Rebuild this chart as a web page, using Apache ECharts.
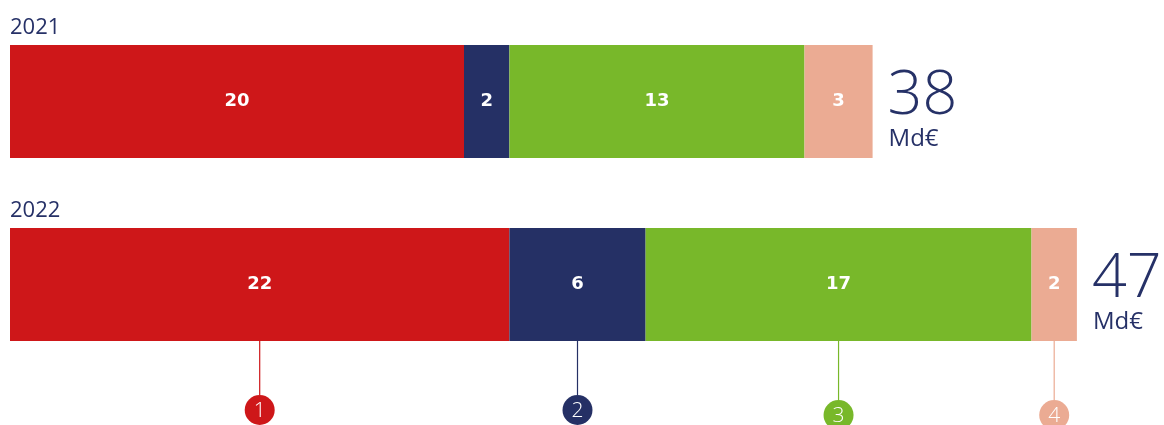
<!DOCTYPE html>
<html>
<head>
<meta charset="utf-8">
<script src="https://cdn.jsdelivr.net/npm/echarts@6/dist/echarts.min.js"></script>
<style>
  html, body { margin: 0; padding: 0; background: #ffffff; }
  #chart { width: 1164px; height: 425px; }
</style>
</head>
<body>
<div id="chart"></div>
<script>
// Years and the four component values (Md€) stacked in each bar
const categories = ['2021', '2022'];
const componentNames = ['1', '2', '3', '4'];
const component1 = [20, 22];
const component2 = [2, 6];
const component3 = [13, 17];
const component4 = [3, 2];
const totals = [38, 47];
const totalUnit = 'Md€';

const palette = ['#CE1719', '#253065', '#78B82A', '#EBAB93'];
const navy = '#263167';
const fontFamily = '"Open Sans", "Liberation Sans", sans-serif';
const boldFamily = '"DejaVu Sans", "Open Sans", sans-serif';

const components = [component1, component2, component3, component4];
const calloutYear = '2022';
const calloutIndex = categories.indexOf(calloutYear);
const BAR = 113;

// Midpoint of each segment of the callout year, used for the numbered markers
const calloutData = [];
let running = 0;
components.forEach(function (arr, i) {
  calloutData.push([running + arr[calloutIndex] / 2, calloutYear, i]);
  running += arr[calloutIndex];
});

const barSeries = components.map(function (arr, i) {
  return {
    name: componentNames[i],
    type: 'bar',
    stack: 'total',
    barWidth: BAR,
    data: arr,
    itemStyle: { color: palette[i] },
    emphasis: { disabled: true },
    label: {
      show: true,
      position: 'inside',
      color: '#ffffff',
      fontFamily: boldFamily,
      fontWeight: 'bold',
      fontSize: 18
    }
  };
});

// Total on the right of each bar, carried by an invisible series stacked on top
barSeries.push({
  name: 'total',
  type: 'bar',
  stack: 'total',
  barWidth: BAR,
  data: totals.map(function () { return 0; }),
  itemStyle: { color: 'transparent' },
  emphasis: { disabled: true },
  label: {
    show: true,
    position: 'right',
    distance: 15,
    padding: [20, 0, 0, 0],
    formatter: function (p) {
      return '{big|' + totals[p.dataIndex] + '}\n{unit|' + totalUnit + '}';
    },
    rich: {
      big: { fontFamily: fontFamily, fontWeight: 300, fontSize: 61, lineHeight: 56, color: navy },
      unit: { fontFamily: fontFamily, fontWeight: 400, fontSize: 24, lineHeight: 30, color: navy, padding: [0, 0, 0, 1] }
    }
  }
});

// Year captions above each bar
barSeries.push({
  type: 'custom',
  silent: true,
  data: categories.map(function (c) { return [0, c]; }),
  renderItem: function (params, api) {
    const pt = api.coord([api.value(0), api.value(1)]);
    return {
      type: 'text',
      x: pt[0],
      y: pt[1] - BAR / 2 - 17,
      style: {
        text: categories[params.dataIndex],
        fill: navy,
        font: '400 22px ' + fontFamily,
        textAlign: 'left',
        textVerticalAlign: 'middle'
      }
    };
  }
});

// Numbered markers hanging below the segments of the callout year
barSeries.push({
  type: 'custom',
  silent: true,
  data: calloutData,
  renderItem: function (params, api) {
    const i = api.value(2);
    const pt = api.coord([api.value(0), api.value(1)]);
    const top = pt[1] + BAR / 2;
    const cy = top + (i < 2 ? 69 : 74);
    const r = 15;
    return {
      type: 'group',
      children: [
        { type: 'line', shape: { x1: pt[0], y1: top, x2: pt[0], y2: cy - r }, style: { stroke: palette[i], lineWidth: 1.2 } },
        { type: 'circle', shape: { cx: pt[0], cy: cy, r: r }, style: { fill: palette[i] } },
        { type: 'text', x: pt[0], y: cy + 1, style: { text: componentNames[i], fill: '#ffffff', font: '300 21px ' + fontFamily, textAlign: 'center', textVerticalAlign: 'middle' } }
      ]
    };
  }
});

const chart = echarts.init(document.getElementById('chart'), null, { renderer: 'canvas' });
chart.setOption({
  animation: false,
  backgroundColor: '#ffffff',
  grid: { left: 10, right: 19, top: 10, height: 366, containLabel: false },
  xAxis: { type: 'value', min: 0, max: 50, show: false },
  yAxis: { type: 'category', data: categories, inverse: true, show: false },
  series: barSeries
});
</script>
</body>
</html>
